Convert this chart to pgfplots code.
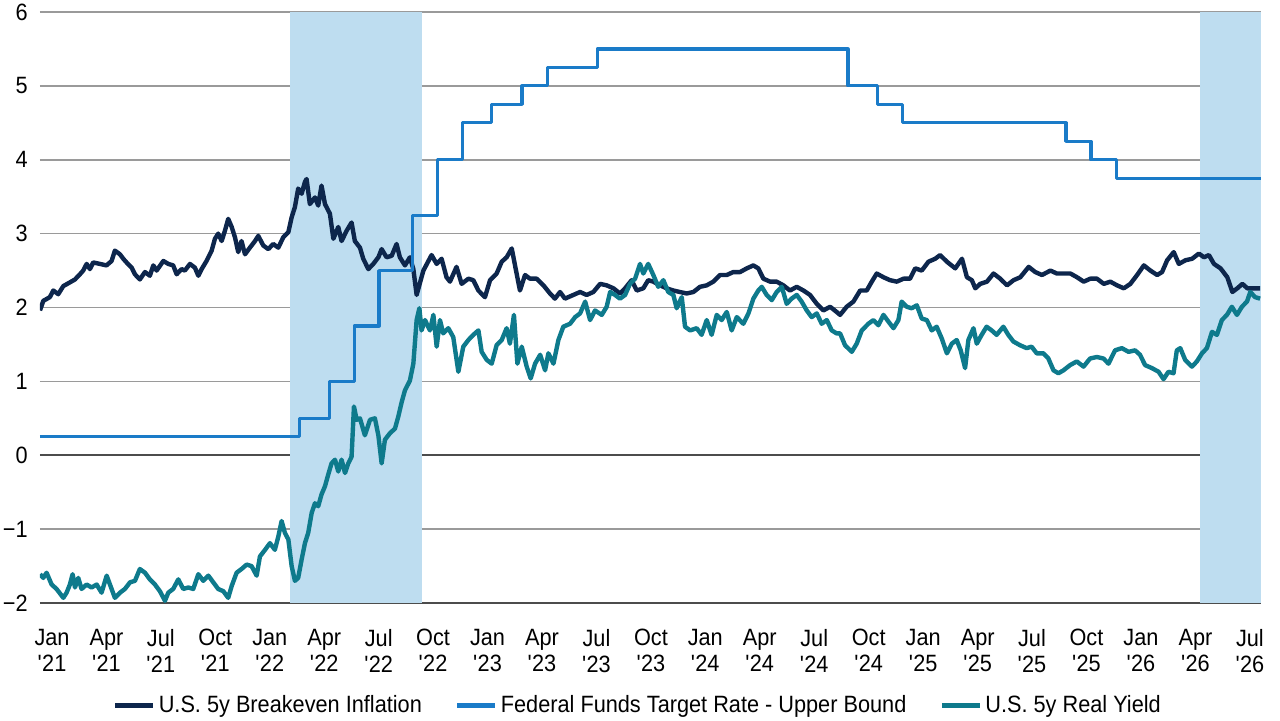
\documentclass[border=0pt]{standalone}
\usepackage{fontspec}
\setmainfont{Liberation Sans}[FakeStretch=0.92]
\usepackage{pgfplots}
\pgfplotsset{compat=1.18}

\definecolor{bei}{HTML}{0D264C}
\definecolor{ffr}{HTML}{1A7BC8}
\definecolor{ry}{HTML}{0E7A8C}
\definecolor{shade}{HTML}{BEDDF0}
\definecolor{gridc}{HTML}{9A9A9A}

\newcommand{\lblfont}{\fontsize{11.8}{13}\selectfont}
\newcommand{\q}{\textquotesingle}

\begin{document}
\begin{tikzpicture}
\begin{axis}[
    scale only axis,
    width=610.5pt, height=295.5pt,
    xmin=0.26, xmax=67.27, ymin=-2, ymax=6,
    axis line style={draw=none},
    major tick length=0pt,
    ytick={-2,...,6},
    yticklabels={−2,−1,0,1,2,3,4,5,6},
    xtick={0.92,3.91,6.89,9.88,12.87,15.86,18.85,21.83,24.82,27.81,30.8,33.79,36.77,39.76,42.75,45.74,48.73,51.72,54.7,57.69,60.68,63.67,66.66},
    xticklabels={{Jan\\\q21},{Apr\\\q21},{Jul\\\q21},{Oct\\\q21},
                 {Jan\\\q22},{Apr\\\q22},{Jul\\\q22},{Oct\\\q22},
                 {Jan\\\q23},{Apr\\\q23},{Jul\\\q23},{Oct\\\q23},
                 {Jan\\\q24},{Apr\\\q24},{Jul\\\q24},{Oct\\\q24},
                 {Jan\\\q25},{Apr\\\q25},{Jul\\\q25},{Oct\\\q25},
                 {Jan\\\q26},{Apr\\\q26},{Jul\\\q26}},
    xticklabel style={font=\lblfont, align=center, anchor=north, inner sep=0pt, yshift=-13pt},
    yticklabel style={font=\lblfont, anchor=east, inner sep=0pt, xshift=-6pt},
    ymajorgrids,
    grid style={gridc, line width=0.75pt},
    extra y ticks={-2,0},
    extra y tick labels={,},
    extra y tick style={grid style={black!70, line width=0.8pt}},
    legend columns=3,
    legend style={draw=none, fill=none, font=\lblfont,
        at={(0.49,-0.174)}, anchor=center,
        nodes={inner sep=1.5pt},
        /tikz/every even column/.append style={column sep=15pt}},
    legend image code/.code={\draw[#1, line width=2.5pt] (0pt,0pt) -- (19pt,0pt);},
    line join=round,
]

% shaded periods
\addplot[fill=shade, draw=none, forget plot] coordinates {(13.99,-2) (13.99,6) (21.2,6) (21.2,-2)} -- cycle;
\addplot[fill=shade, draw=none, forget plot] coordinates {(63.92,-2) (63.92,6) (67.27,6) (67.27,-2)} -- cycle;

% U.S. 5y breakeven inflation
\addplot[bei, line width=2.2pt] coordinates {
(0.26,1.96)(0.44,2.09)(0.8,2.14)(0.99,2.23)(1.26,2.18)(1.54,2.29)(1.9,2.34)(2.18,2.38)(2.45,2.45)(2.63,2.5)
(2.82,2.59)(3.0,2.52)(3.18,2.61)(3.55,2.59)(3.91,2.57)(4.19,2.63)(4.37,2.77)(4.65,2.72)(4.83,2.66)(5.01,2.61)
(5.29,2.54)(5.47,2.45)(5.74,2.38)(6.02,2.48)(6.29,2.43)(6.48,2.57)(6.66,2.5)(7.03,2.63)(7.3,2.59)(7.57,2.57)
(7.76,2.45)(8.03,2.52)(8.21,2.5)(8.49,2.59)(8.76,2.54)(8.95,2.43)(9.13,2.52)(9.4,2.63)(9.68,2.77)(9.86,2.93)
(10.04,3.0)(10.23,2.9)(10.41,3.04)(10.59,3.2)(10.78,3.09)(10.96,2.95)(11.14,2.75)(11.32,2.9)(11.51,2.72)(11.78,2.81)
(12.06,2.9)(12.24,2.97)(12.51,2.84)(12.79,2.79)(13.06,2.86)(13.34,2.81)(13.61,2.95)(13.89,3.02)(14.07,3.22)(14.25,3.36)
(14.43,3.61)(14.62,3.54)(14.8,3.7)(14.89,3.74)(15.07,3.4)(15.35,3.49)(15.53,3.38)(15.71,3.65)(15.9,3.4)(16.17,3.27)
(16.36,2.93)(16.63,3.09)(16.81,2.9)(17.09,3.04)(17.36,3.15)(17.54,2.9)(17.82,2.81)(18.0,2.66)(18.28,2.52)(18.55,2.59)
(18.83,2.68)(19.01,2.79)(19.28,2.68)(19.56,2.7)(19.83,2.86)(20.01,2.68)(20.29,2.57)(20.56,2.68)(20.75,2.52)
(20.93,2.17)(21.3,2.5)(21.75,2.71)(22.03,2.59)(22.3,2.66)(22.57,2.41)(22.76,2.35)(23.12,2.55)(23.4,2.32)(23.77,2.39)
(24.04,2.37)(24.32,2.23)(24.68,2.14)(24.96,2.37)(25.32,2.46)(25.6,2.62)(25.87,2.68)(26.15,2.8)(26.33,2.57)(26.6,2.23)
(26.88,2.44)(27.15,2.39)(27.52,2.39)(27.89,2.3)(28.25,2.19)(28.52,2.12)(28.8,2.21)(29.07,2.12)(29.53,2.17)(29.9,2.21)
(30.26,2.17)(30.63,2.21)(31.0,2.32)(31.36,2.3)(31.73,2.26)(32.09,2.19)(32.37,2.26)(32.73,2.37)(33.01,2.23)(33.37,2.26)
(33.64,2.37)(33.92,2.35)(34.29,2.3)(34.65,2.26)(35.02,2.23)(35.38,2.21)(35.75,2.19)(36.12,2.21)(36.48,2.28)(36.85,2.3)
(37.21,2.35)(37.58,2.44)(37.95,2.44)(38.31,2.48)(38.68,2.48)(39.05,2.53)(39.41,2.57)(39.68,2.53)(39.96,2.39)(40.33,2.35)
(40.69,2.35)(41.06,2.3)(41.42,2.23)(41.79,2.28)(42.16,2.23)(42.52,2.17)(42.89,2.05)(43.25,1.96)(43.62,2.01)(43.98,1.94)
(44.17,1.9)(44.53,2.01)(44.9,2.08)(45.27,2.23)(45.63,2.23)(45.91,2.35)(46.18,2.46)(46.55,2.41)(46.91,2.37)(47.28,2.35)
(47.65,2.39)(48.01,2.39)(48.29,2.53)(48.65,2.5)(49.02,2.62)(49.39,2.66)(49.66,2.71)(50.03,2.62)(50.49,2.53)(50.86,2.66)
(51.13,2.41)(51.4,2.37)(51.59,2.26)(51.86,2.32)(52.23,2.35)(52.59,2.46)(52.96,2.39)(53.33,2.3)(53.69,2.37)(54.06,2.41)
(54.52,2.55)(54.88,2.48)(55.25,2.44)(55.71,2.5)(56.07,2.46)(56.44,2.46)(56.81,2.46)(57.17,2.41)(57.54,2.35)(57.9,2.39)
(58.27,2.39)(58.64,2.32)(59.0,2.35)(59.37,2.3)(59.74,2.26)(60.1,2.32)(60.47,2.44)(60.84,2.57)(61.2,2.5)(61.57,2.44)
(61.84,2.48)(62.12,2.64)(62.48,2.75)(62.76,2.59)(63.13,2.64)(63.49,2.66)(63.86,2.73)(64.14,2.68)(64.41,2.71)(64.69,2.59)
(65.05,2.53)(65.42,2.41)(65.7,2.21)(65.97,2.26)(66.25,2.32)(66.52,2.26)(66.89,2.26)(67.22,2.26)
};
\addlegendentry{U.S. 5y Breakeven Inflation}

% Federal funds target rate, upper bound
\addplot[ffr, line width=1.6pt, const plot] coordinates {
(0.26,0.25)(14.52,0.5)(16.13,1.0)(17.5,1.75)(18.87,2.5)(20.7,3.25)(22.07,4.0)(23.45,4.5)(25.04,4.75)
(26.71,5.0)(28.1,5.25)(30.84,5.5)(44.6,5.0)(46.23,4.75)(47.58,4.5)(56.57,4.25)(57.94,4.0)(59.32,3.75)(67.27,3.75)
};
\addlegendentry{Federal Funds Target Rate - Upper Bound}

% U.S. 5y real yield
\addplot[ry, line width=2.2pt] coordinates {
(0.26,-1.61)(0.44,-1.66)(0.62,-1.59)(0.9,-1.75)(1.17,-1.81)(1.54,-1.93)(1.72,-1.86)(1.9,-1.75)(2.05,-1.61)(2.18,-1.79)
(2.36,-1.66)(2.54,-1.81)(2.82,-1.75)(3.09,-1.79)(3.37,-1.75)(3.64,-1.86)(3.92,-1.63)(4.1,-1.75)(4.37,-1.93)(4.65,-1.86)
(4.92,-1.81)(5.2,-1.72)(5.47,-1.7)(5.74,-1.54)(6.02,-1.59)(6.29,-1.68)(6.57,-1.75)(6.84,-1.84)(7.12,-1.97)(7.3,-1.86)
(7.57,-1.81)(7.85,-1.68)(8.12,-1.81)(8.4,-1.79)(8.67,-1.81)(8.95,-1.61)(9.22,-1.7)(9.5,-1.63)(9.77,-1.72)(10.04,-1.81)
(10.32,-1.84)(10.59,-1.93)(10.78,-1.77)(11.05,-1.59)(11.32,-1.54)(11.6,-1.48)(11.87,-1.5)(12.15,-1.63)(12.33,-1.37)(12.61,-1.28)
(12.88,-1.19)(13.15,-1.28)(13.34,-1.1)(13.52,-0.89)(13.7,-1.05)(13.89,-1.14)(14.07,-1.5)(14.25,-1.7)(14.43,-1.66)(14.62,-1.41)
(14.8,-1.19)(14.98,-1.05)(15.17,-0.78)(15.35,-0.65)(15.53,-0.69)(15.71,-0.53)(15.9,-0.42)(16.08,-0.26)(16.26,-0.11)(16.45,-0.06)
(16.63,-0.22)(16.81,-0.06)(17.0,-0.24)(17.18,-0.11)(17.36,-0.02)(17.49,0.66)(17.64,0.48)(17.82,0.5)(18.09,0.27)(18.37,0.48)
(18.64,0.5)(18.83,0.27)(19.01,-0.11)(19.19,0.21)(19.47,0.3)(19.74,0.36)(19.92,0.52)(20.11,0.72)(20.29,0.88)(20.56,1.01)
(20.75,1.24)(20.93,1.83)(21.08,1.99)(21.2,1.69)(21.39,1.83)(21.66,1.69)(21.85,1.9)(22.03,1.47)(22.21,1.83)(22.39,1.65)
(22.67,1.72)(22.94,1.6)(23.22,1.13)(23.49,1.47)(23.77,1.56)(24.04,1.63)(24.32,1.69)(24.5,1.4)(24.78,1.29)(25.05,1.24)
(25.32,1.49)(25.6,1.56)(25.87,1.72)(26.05,1.51)(26.27,1.9)(26.46,1.24)(26.7,1.47)(26.97,1.2)(27.19,1.04)(27.43,1.24)
(27.71,1.36)(27.98,1.15)(28.16,1.38)(28.44,1.24)(28.71,1.56)(28.98,1.74)(29.35,1.78)(29.63,1.87)(29.9,1.92)(30.18,2.08)
(30.45,1.83)(30.72,1.96)(31.09,1.9)(31.36,2.01)(31.55,2.21)(31.82,2.17)(32.09,2.12)(32.37,2.17)(32.64,2.32)(32.92,2.39)
(33.19,2.59)(33.37,2.46)(33.64,2.59)(33.92,2.44)(34.19,2.28)(34.47,2.37)(34.74,2.21)(35.02,2.17)(35.2,1.99)(35.48,2.14)
(35.66,1.74)(35.94,1.69)(36.3,1.72)(36.57,1.63)(36.85,1.83)(37.12,1.63)(37.4,1.9)(37.67,1.83)(37.95,1.94)(38.22,1.69)
(38.5,1.87)(38.86,1.78)(39.14,1.92)(39.41,2.12)(39.68,2.23)(39.87,2.28)(40.14,2.17)(40.42,2.1)(40.69,2.21)(40.97,2.28)
(41.24,2.05)(41.51,2.12)(41.79,2.17)(42.06,2.08)(42.34,1.96)(42.61,1.87)(42.89,1.92)(43.16,1.78)(43.44,1.83)(43.71,1.69)
(43.98,1.65)(44.17,1.65)(44.44,1.49)(44.81,1.4)(45.08,1.51)(45.36,1.69)(45.72,1.78)(46.0,1.83)(46.27,1.76)(46.55,1.9)
(46.82,1.81)(47.1,1.72)(47.37,1.83)(47.55,2.08)(47.83,2.01)(48.1,1.99)(48.38,2.03)(48.65,1.85)(48.93,1.83)(49.2,1.69)
(49.47,1.74)(49.75,1.58)(50.03,1.38)(50.3,1.51)(50.57,1.56)(50.79,1.42)(51.03,1.18)(51.21,1.56)(51.49,1.72)(51.67,1.51)
(51.94,1.63)(52.21,1.74)(52.49,1.69)(52.76,1.63)(53.13,1.74)(53.4,1.63)(53.68,1.54)(54.04,1.49)(54.41,1.45)(54.68,1.47)
(54.96,1.38)(55.33,1.38)(55.6,1.31)(55.88,1.15)(56.15,1.11)(56.43,1.15)(56.79,1.22)(57.16,1.27)(57.53,1.2)(57.89,1.31)
(58.26,1.33)(58.62,1.31)(58.9,1.24)(59.26,1.42)(59.63,1.45)(60.0,1.4)(60.36,1.42)(60.63,1.36)(60.91,1.22)(61.28,1.18)
(61.65,1.13)(61.92,1.03)(62.19,1.13)(62.47,1.11)(62.65,1.42)(62.84,1.45)(63.11,1.29)(63.48,1.2)(63.75,1.27)(64.03,1.38)
(64.3,1.45)(64.58,1.67)(64.85,1.63)(65.12,1.83)(65.4,1.9)(65.67,2.01)(65.95,1.9)(66.22,2.01)(66.5,2.08)(66.68,2.21)
(66.95,2.14)(67.22,2.12)
};
\addlegendentry{U.S. 5y Real Yield}

\end{axis}
\pgfresetboundingbox
\path[use as bounding box] (-20pt,-58.5pt) rectangle (620pt,301.5pt);
\end{tikzpicture}
\end{document}
